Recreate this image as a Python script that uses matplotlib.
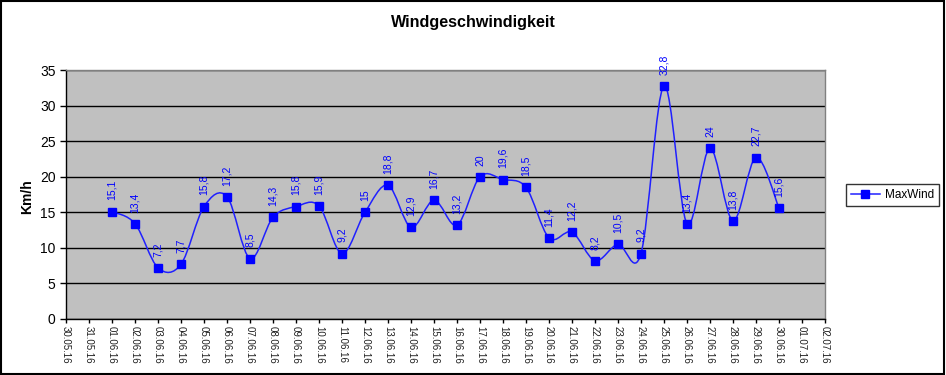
import matplotlib
matplotlib.use("Agg")
import matplotlib.pyplot as plt
from matplotlib.path import Path
from matplotlib.patches import PathPatch, Rectangle
import pandas as pd
import numpy as np

plt.rcParams['font.family'] = ['Liberation Sans', 'DejaVu Sans']

title = "Windgeschwindigkeit"
y_label = "Km/h"
series_name = "MaxWind"
tick_dates = pd.date_range("2016-05-30", "2016-07-02", freq="D")
tick_labels = [d.strftime("%d.%m.%y") for d in tick_dates]
data_dates = pd.date_range("2016-06-01", "2016-06-30", freq="D")
max_wind = [15.1, 13.4, 7.2, 7.7, 15.8, 17.2, 8.5, 14.3, 15.8, 15.9,
            9.2, 15, 18.8, 12.9, 16.7, 13.2, 20, 19.6, 18.5, 11.4,
            12.2, 8.2, 10.5, 9.2, 32.8, 13.4, 24, 13.8, 22.7, 15.6]

xt = np.array([(d - tick_dates[0]).days for d in tick_dates], dtype=float)
xd = np.array([(d - tick_dates[0]).days for d in data_dates], dtype=float)
yd = np.array(max_wind, dtype=float)

fig = plt.figure(figsize=(9.46, 3.75), dpi=100)
fig.patch.set_facecolor("white")
ax = fig.add_axes([66/946, 1-319/375, (825-66)/946, (319-70)/375])
ax.set_facecolor("#C0C0C0")
ax.set_xlim(xt[0], xt[-1])
ax.set_ylim(0, 35)
ax.set_yticks(np.arange(0, 36, 5))
ax.yaxis.grid(True, color="black", lw=1)
ax.set_axisbelow(True)

# Smooth (Excel-like) curve via cubic Bezier segments
P = np.column_stack([xd, yd])
verts = [tuple(P[0])]
codes = [Path.MOVETO]
n = len(P)
for i in range(n - 1):
    p0 = P[i - 1] if i > 0 else P[i]
    p1 = P[i]
    p2 = P[i + 1]
    p3 = P[i + 2] if i + 2 < n else P[i + 1]
    c1 = p1 + (p2 - p0) / 6.0
    c2 = p2 - (p3 - p1) / 6.0
    verts += [tuple(c1), tuple(c2), tuple(p2)]
    codes += [Path.CURVE4] * 3
ax.add_patch(PathPatch(Path(verts, codes), facecolor="none", edgecolor="#2020FF", lw=1.1, zorder=3))
ax.plot(xd, yd, ls="none", marker="s", ms=6, color="#0000FF", zorder=4)
ax.plot([], [], color="#2020FF", lw=1.1, marker="s", ms=6, mfc="#0000FF", mec="#0000FF", label=series_name)

for x, y in zip(xd, yd):
    lab = ("%g" % y).replace(".", ",")
    ax.annotate(lab, (x, y), xytext=(0, 8), textcoords="offset points",
                rotation=90, ha="center", va="bottom", fontsize=7.5, color="#0000FF", zorder=5)

ax.set_xticks(xt)
ax.set_xticklabels(tick_labels, rotation=270, fontsize=7, color="#202020")
ax.tick_params(axis="x", direction="out", length=3, width=1, pad=2)
ax.tick_params(axis="y", direction="out", length=4.5, width=1, labelsize=10, pad=3)
for s in ["left", "bottom"]:
    ax.spines[s].set_color("black")
    ax.spines[s].set_linewidth(1)
for s in ["top", "right"]:
    ax.spines[s].set_color("#808080")
    ax.spines[s].set_linewidth(1)

ax.set_ylabel(y_label, fontsize=10, fontweight="bold", va="center")
ax.yaxis.set_label_coords((27-66)/759, (319-197)/249)
fig.text(473/946, 1-22.5/375, title, ha="center", va="center", fontsize=11.6, fontweight="bold")

leg = fig.legend(loc="center left", bbox_to_anchor=(846/946, 1-195/375), frameon=True,
                 fancybox=False, edgecolor="black", fontsize=8.5, handlelength=2.5,
                 borderpad=0.4, handletextpad=0.4, borderaxespad=0)
leg.get_frame().set_linewidth(1)

fig.add_artist(Rectangle((0.001, 0.002), 0.997, 0.995, transform=fig.transFigure,
                         fill=False, edgecolor="black", lw=1.5))

fig.savefig("out.png", dpi=100)
